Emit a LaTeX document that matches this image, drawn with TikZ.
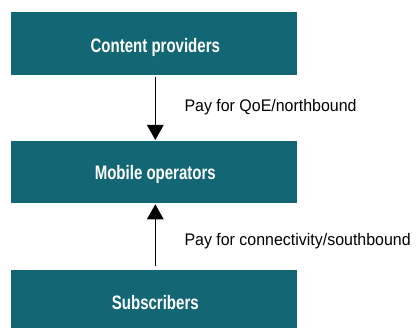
\documentclass[tikz,border=0pt]{standalone}
\usepackage{fontspec}
\setmainfont{Liberation Sans}
\newfontfamily\boxfont{Liberation Sans}[FakeStretch=0.77]
\newfontfamily\labfont{Liberation Sans}[FakeStretch=0.95]
\usetikzlibrary{arrows.meta}
\definecolor{teal}{RGB}{19,103,116}
\tikzset{
  tealbox/.style={draw=none, fill=teal, minimum width=286pt, inner sep=0pt},
  boxtext/.style={anchor=base, inner sep=0pt, text=white, font=\boxfont\bfseries\fontsize{19.5}{20}\selectfont},
  flowlabel/.style={anchor=base west, inner sep=0pt, font=\labfont\fontsize{16.8}{18}\selectfont},
  payflow/.style={line width=1.5pt, -{Triangle[width=16.5pt,length=15pt]}}
}
\begin{document}
\begin{tikzpicture}[x=1pt,y=-1pt]
  \useasboundingbox (0,0) rectangle (420,328);
  % the three parties
  \node[tealbox, minimum height=63pt] (cp) at (154,43.5) {};
  \node[tealbox, minimum height=62pt] (mo) at (154,172) {};
  \node[tealbox, minimum height=58pt] (sub) at (154,299) {};
  \node[boxtext] (cpt) at (155.3,52.7) {Content providers};
  \node[boxtext] (mot) at (155.3,180) {Mobile operators};
  \node[boxtext] (subt) at (155.3,310) {Subscribers};
  % payment flows
  \coordinate (a1s) at (155.3,76.7);
  \coordinate (a1e) at (155.3,140);
  \coordinate (a2s) at (155.3,265.7);
  \coordinate (a2e) at (155.3,204.3);
  \draw[payflow] (a1s) -- (a1e);
  \draw[payflow] (a2s) -- (a2e);
  \node[flowlabel] (l1) at (184.3,111.3) {Pay for QoE/northbound};
  \node[flowlabel] (l2) at (184.3,245.7) {Pay for connectivity/southbound};
\end{tikzpicture}
\end{document}
